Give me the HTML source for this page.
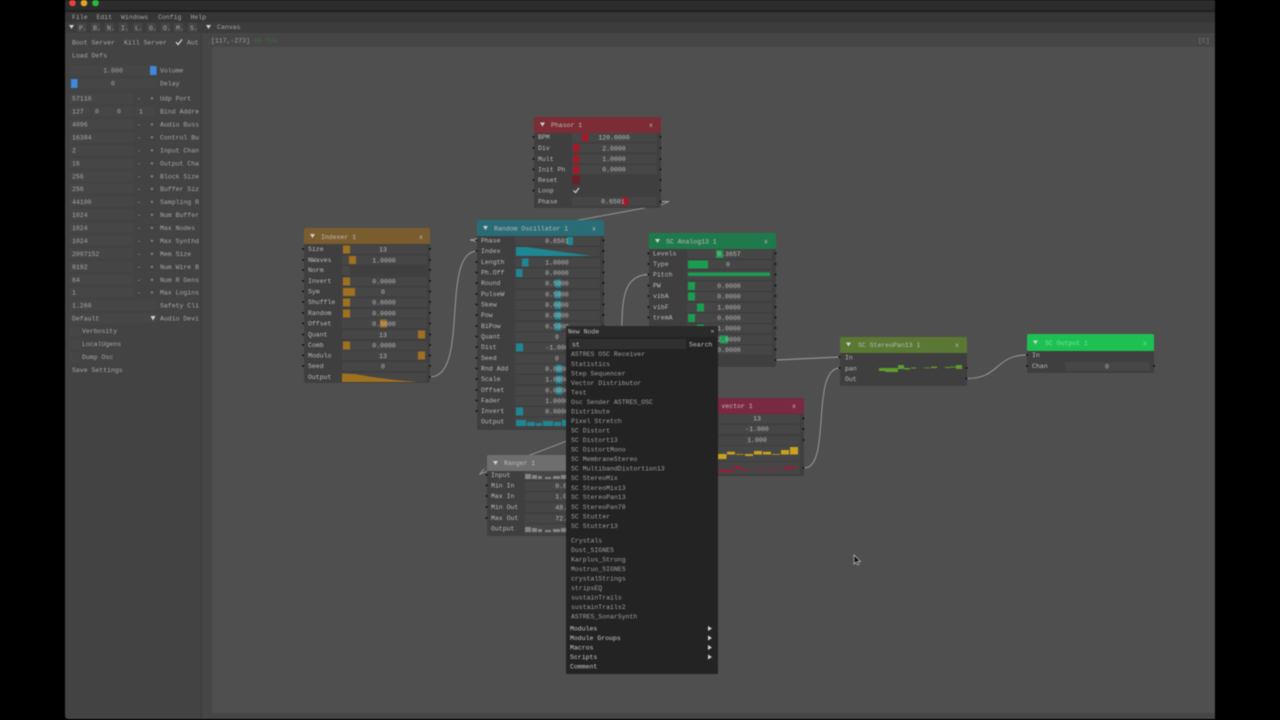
<!DOCTYPE html>
<html lang="en"><head><meta charset="utf-8"><title>Canvas</title>
<style>
html,body{margin:0;padding:0;background:#000;width:1280px;height:720px;overflow:hidden}
svg{display:block;filter:blur(.45px)}
text{font-family:"Liberation Mono","DejaVu Sans Mono",monospace;font-size:6.5px;fill:#aaa}
.m{text-anchor:middle}
.f{fill:#464646}
.b{fill:#3f3f3f}
.d{fill:none;stroke:#111;stroke-width:2;stroke-linecap:round}
.w{fill:none;stroke:#a0a0a0;stroke-width:.9}
.h{fill:#d0d0d0}
.l text{fill:#a8a8a8}
.n text{fill:#bcbcbc}
.g text{fill:#a0a0a0}
.t text{fill:#cccccc}
</style></head><body>
<svg width="1280" height="720" viewBox="0 0 1280 720" xmlns="http://www.w3.org/2000/svg">
<rect width="1280" height="720" fill="#000"/>
<rect x="65" y="0" width="1150" height="719" rx="3" fill="#434343"/>
<rect x="65" y="0" width="1150" height="10" fill="#2c2c2c"/>
<rect x="65" y="10" width="1150" height="2" fill="#1f1f1f"/>
<rect x="65" y="12" width="1150" height="10" fill="#363636"/>
<rect x="65" y="22" width="1150" height="11" fill="#3c3c3c"/>
<rect x="201" y="33" width="1" height="686" fill="#383838"/>
<rect x="202" y="33" width="1013" height="686" fill="#464646"/>
<rect x="212" y="47" width="1003" height="666" fill="#4f4f4f"/>
<circle cx="72.500" cy="3" r="3.300" fill="#e0443e"/><circle cx="84" cy="3" r="3.300" fill="#e0a52a"/><circle cx="95.500" cy="3" r="3.300" fill="#2cb840"/>

<g class="l">
<text x="72" y="19">File</text><text x="96.500" y="19">Edit</text><text x="121" y="19">Windows</text><text x="158" y="19">Config</text><text x="190.500" y="19">Help</text>
<path d="M69 25h5l-2.500 4z" class="h"/>
<path class="f" d="M77 23h9v9h-9zM91 23h9v9h-9zM105 23h9v9h-9zM119 23h9v9h-9zM133 23h9v9h-9zM147 23h9v9h-9zM161 23h9v9h-9zM174 23h9v9h-9zM188 23h9v9h-9z"/>
<text x="79" y="30">P.</text><text x="93" y="30">B.</text><text x="107" y="30">N.</text><text x="121" y="30">I.</text><text x="135" y="30">L.</text><text x="149" y="30">G.</text><text x="163" y="30">O.</text><text x="176" y="30">M.</text><text x="190" y="30">S.</text>
<path d="M206 25h5l-2.500 4z" class="h"/><text x="217" y="29">Canvas</text>
<text x="72" y="44.500">Boot Server</text><text x="124" y="44.500">Kill Server</text>
<path d="M176 42l2 2.500 4-5" fill="none" stroke="#ddd" stroke-width="1.200"/><text x="187" y="44.500">Aut</text>
<text x="72" y="57.500">Load Defs</text>
<path class="f" d="M70 66h87v9h-87zM70 79h87v9h-87zM70 94h63v9h-63zM70 107h20v9h-20zM93 107h20v9h-20zM114 107h19v9h-19zM135 107h20v9h-20zM70 120h63v9h-63zM70 133h63v9h-63zM70 146h63v9h-63zM70 159h63v9h-63zM70 172h63v9h-63zM70 184h63v9h-63zM70 197h63v9h-63zM70 210h63v9h-63zM70 223h63v9h-63zM70 236h63v9h-63zM70 249h63v9h-63zM70 262h63v9h-63zM70 275h63v9h-63zM70 288h63v9h-63zM70 301h87v9h-87zM70 314h87v9h-87zM70 327h10v9h-10zM70 340h10v9h-10zM70 353h10v9h-10z"/>
<rect x="150" y="66" width="6.500" height="9" fill="#3f88dc"/><rect x="71" y="79" width="6.500" height="9" fill="#3f88dc"/>
<text x="113" y="72.500" class="m">1.000</text><text x="113" y="85.500" class="m">0</text>
<text x="160" y="72.500">Volume</text><text x="160" y="85.500">Delay</text>
<text x="72" y="100.500">57110</text><text x="72" y="113.500">127</text><text x="95" y="113.500">0</text><text x="117" y="113.500">0</text><text x="139" y="113.500">1</text>
<text x="72" y="126.500">4096</text><text x="72" y="139.500">16384</text><text x="72" y="152.500">2</text><text x="72" y="165.500">16</text><text x="72" y="178.500">256</text><text x="72" y="191">256</text><text x="72" y="204">44100</text><text x="72" y="217">1024</text><text x="72" y="230">1024</text><text x="72" y="243">1024</text><text x="72" y="256">2097152</text><text x="72" y="269">8192</text><text x="72" y="282">64</text><text x="72" y="294.500">1</text>
<text x="72" y="307.500">1.260</text><text x="72" y="320.500">Default</text>
<path d="M150.500 316h5l-2.500 4.500z" class="h"/>
<text x="160" y="100.500">Udp Port</text><text x="160" y="113.500">Bind Addre</text><text x="160" y="126.500">Audio Buss</text><text x="160" y="139.500">Control Bu</text><text x="160" y="152.500">Input Chan</text><text x="160" y="165.500">Output Cha</text><text x="160" y="178.500">Block Size</text><text x="160" y="191">Buffer Siz</text><text x="160" y="204">Sampling R</text><text x="160" y="217">Num Buffer</text><text x="160" y="230">Max Nodes</text><text x="160" y="243">Max Synthd</text><text x="160" y="256">Mem Size</text><text x="160" y="269">Num Wire B</text><text x="160" y="282">Num R Gens</text><text x="160" y="294.500">Max Logins</text><text x="160" y="307.500">Safety Cli</text><text x="160" y="320.500">Audio Devi</text>
<text x="82" y="333">Verbosity</text><text x="82" y="346">LocalUgens</text><text x="82" y="359">Dump Osc</text><text x="72" y="372">Save Settings</text>
<g class="m"><text x="139" y="100.500">-</text><text x="152" y="100.500">+</text><text x="139" y="126.500">-</text><text x="152" y="126.500">+</text><text x="139" y="139.500">-</text><text x="152" y="139.500">+</text><text x="139" y="152.500">-</text><text x="152" y="152.500">+</text><text x="139" y="165.500">-</text><text x="152" y="165.500">+</text><text x="139" y="178.500">-</text><text x="152" y="178.500">+</text><text x="139" y="191">-</text><text x="152" y="191">+</text><text x="139" y="204">-</text><text x="152" y="204">+</text><text x="139" y="217">-</text><text x="152" y="217">+</text><text x="139" y="230">-</text><text x="152" y="230">+</text><text x="139" y="243">-</text><text x="152" y="243">+</text><text x="139" y="256">-</text><text x="152" y="256">+</text><text x="139" y="269">-</text><text x="152" y="269">+</text><text x="139" y="282">-</text><text x="152" y="282">+</text><text x="139" y="294.500">-</text><text x="152" y="294.500">+</text></g>
</g>
<text x="211" y="42.500" style="fill:#9e9e9e">[117,-273]</text><text x="254" y="42.500" style="fill:#3d6d3d">60 fps</text>
<text x="1198" y="42.500" style="fill:#7c7c7c">[C]</text>

<!-- wires -->
<path class="w" d="M660 201.500H669L661 205L470 240L477 241.500"/>
<path class="w" d="M430 377C470 377 440 252 477 251"/>
<path class="w" d="M649 274.500C615 274.500 625 320 620 345"/>
<path class="w" d="M776 360L840 357"/>
<path class="w" d="M804 468C832 468 810 368 840 368"/>
<path class="w" d="M967 378.500C1000 378.500 995 355 1027 355"/>
<path class="w" d="M575 438L530 455L480 474L484 469"/>

<!-- Phasor -->
<g class="n">
<rect x="534" y="117" width="127" height="91" rx="2" class="b"/>
<path d="M534 119q0-2 2-2h123q2 0 2 2v14h-127z" fill="#7b2c35"/>
<path class="f" d="M572 133h85v9h-85zM572 143.500h85v9h-85zM572 154.500h85v9h-85zM572 165h85v9h-85zM572 197h85v9h-85z"/>
<path d="M582 133.500h6.500v8h-6.500zM573 144h6.500v8h-6.500zM573 155h6.500v8h-6.500zM573 165.500h6.500v8h-6.500zM622 197.500h6.500v8h-6.500z" fill="#a01b27"/>
<rect x="572" y="175.500" width="8" height="9" fill="#6a1f2a"/>
<path d="M573.500 190.500l2 2 3.500-4.500" fill="none" stroke="#ddd" stroke-width="1.100"/>
<path class="d" d="M533.500 137h0M533.500 148h0M533.500 159h0M533.500 169.500h0M533.500 180h0M533.500 190.500h0M660.500 137h0M660.500 148h0M660.500 159h0M660.500 169.500h0M660.500 180h0M660.500 190.500h0M660.500 201.500h0"/>
<path d="M540 122.500h5l-2.500 4z" class="h"/>
<text x="551" y="127">Phasor 1</text><text x="649" y="127">x</text>
<text x="538" y="139">BPM</text><text x="538" y="150">Div</text><text x="538" y="161">Mult</text><text x="538" y="171.500">Init Ph</text><text x="538" y="182">Reset</text><text x="538" y="192.500">Loop</text><text x="538" y="203.500">Phase</text>
<g class="m"><text x="614" y="139.500">120.0000</text><text x="614" y="150.500">2.0000</text><text x="614" y="161">1.0000</text><text x="614" y="171.500">0.0000</text><text x="613" y="203.500">0.6501</text></g>
</g>

<!-- Indexer -->
<g class="n">
<rect x="304" y="228" width="126" height="155" rx="2" class="b"/>
<path d="M304 230q0-2 2-2h122q2 0 2 2v14h-126z" fill="#7a5d2e"/>
<path class="f" d="M342 245h85v9h-85zM342 255.500h85v9h-85zM342 277h85v9h-85zM342 287.500h85v9h-85zM342 298h85v9h-85zM342 309h85v9h-85zM342 319h85v9h-85zM342 330h85v9h-85zM342 341h85v9h-85zM342 351h85v9h-85zM342 362h85v9h-85zM342 373h85v9h-85z"/>
<rect x="342" y="266" width="8" height="9" fill="#464646"/>
<path d="M343 245.500h7v8h-7zM349 256h7v8h-7zM343 277.500h7v8h-7zM343 288h12v8h-12zM343 298.500h7v8h-7zM343 309.500h7v8h-7zM380 319.500h7v8h-7zM418 330.500h7v8h-7zM343 341.500h7v8h-7zM418 351.500h7v8h-7zM342 373.500L355 374L372 377L395 380L418 382H342z" fill="#a0711f"/>
<path class="d" d="M303 249h0M303 260h0M303 270h0M303 281h0M303 291.500h0M303 302h0M303 313h0M303 323.500h0M303 334.500h0M303 345h0M303 355.500h0M303 366h0M430 249h0M430 260h0M430 270h0M430 281h0M430 291.500h0M430 302h0M430 313h0M430 323.500h0M430 334.500h0M430 345h0M430 355.500h0M430 366h0M430 377h0"/>
<path d="M310 234h5l-2.500 4z" class="h"/>
<text x="321" y="239">Indexer 1</text><text x="419" y="239">x</text>
<text x="308" y="251">Size</text><text x="308" y="262">NWaves</text><text x="308" y="272">Norm</text><text x="308" y="283">Invert</text><text x="308" y="293.500">Sym</text><text x="308" y="304">Shuffle</text><text x="308" y="315">Random</text><text x="308" y="325.500">Offset</text><text x="308" y="336.500">Quant</text><text x="308" y="347">Comb</text><text x="308" y="357.500">Modulo</text><text x="308" y="368">Seed</text><text x="308" y="379">Output</text>
<g class="m"><text x="383" y="251.500">13</text><text x="384" y="262.500">1.0000</text><text x="384" y="283.500">0.0000</text><text x="383" y="294">0</text><text x="384" y="304.500">0.0000</text><text x="384" y="315.500">0.0000</text><text x="384" y="326">0.0000</text><text x="383" y="337">13</text><text x="384" y="347.500">0.0000</text><text x="383" y="358">13</text><text x="383" y="368.500">0</text></g>
</g>

<!-- Random Oscillator -->
<g class="n">
<rect x="477" y="220" width="127" height="210" rx="2" class="b"/>
<path d="M477 222q0-2 2-2h123q2 0 2 2v14h-127z" fill="#2a6c75"/>
<path class="f" d="M515 236.500h85v9h-85zM515 247h85v9h-85zM515 258h85v9h-85zM515 268.500h85v9h-85zM515 279h85v9h-85zM515 290h85v9h-85zM515 300.500h85v9h-85zM515 311h85v9h-85zM515 322h85v9h-85zM515 332.500h85v9h-85zM515 343h85v9h-85zM515 354h85v9h-85zM515 364.500h85v9h-85zM515 375h85v9h-85zM515 386h85v9h-85zM515 396.500h85v9h-85zM515 407h85v9h-85zM515 417.500h85v9h-85z"/>
<path d="M567 237h6v8h-6zM522 258.500h6.500v8h-6.500zM516 269h6.500v8h-6.500zM555 279.500h6v8h-6zM555 290.500h6v8h-6zM555 301h6v8h-6zM555 311.500h6v8h-6zM555 322.500h6v8h-6zM516 343.500h7v8h-7zM556 364.800h6v8h-6zM556 375.500h6v8h-6zM556 386.500h6v8h-6zM516 407.500h7v8h-7zM516 247h10l66 9h-76zM516 420h10v6h-10zM527 422h8v4h-8zM536 423h6v3h-6zM543 421h10v5h-10zM554 422h7v4h-7zM562 420h6v6h-6z" fill="#1f8793"/>
<path class="d" d="M476.500 240.500h0M476.500 251h0M476.500 262h0M476.500 272.500h0M476.500 283h0M476.500 294h0M476.500 304.500h0M476.500 315h0M476.500 326h0M476.500 336.500h0M476.500 347h0M476.500 358h0M476.500 368.500h0M476.500 379h0M476.500 390h0M476.500 400.500h0M476.500 411h0M603.500 240.500h0M603.500 251h0M603.500 262h0M603.500 272.500h0M603.500 283h0M603.500 294h0M603.500 304.500h0M603.500 315h0M603.500 326h0"/>
<path d="M483 226h5l-2.500 4z" class="h"/>
<text x="494" y="230.500">Random Oscillator 1</text><text x="592" y="230.500">x</text>
<text x="481" y="242.500">Phase</text><text x="481" y="253">Index</text><text x="481" y="264">Length</text><text x="481" y="274.500">Ph.Off</text><text x="481" y="285">Round</text><text x="481" y="296">PulseW</text><text x="481" y="306.500">Skew</text><text x="481" y="317">Pow</text><text x="481" y="328">BiPow</text><text x="481" y="338.500">Quant</text><text x="481" y="349">Dist</text><text x="481" y="360">Seed</text><text x="481" y="370.500">Rnd Add</text><text x="481" y="381">Scale</text><text x="481" y="392">Offset</text><text x="481" y="402.500">Fader</text><text x="481" y="413">Invert</text><text x="481" y="423.500">Output</text>
<g class="m"><text x="557" y="243">0.6501</text><text x="557" y="264.500">1.0000</text><text x="557" y="275">0.0000</text><text x="557" y="285.500">0.5000</text><text x="557" y="296.500">0.5000</text><text x="557" y="307">0.0000</text><text x="557" y="317.500">0.0000</text><text x="557" y="328.500">0.5000</text><text x="557" y="339">0</text><text x="557" y="349.500">-1.000</text><text x="557" y="360.500">0</text><text x="557" y="371">0.0000</text><text x="557" y="381.500">1.0000</text><text x="557" y="392.500">0.0000</text><text x="557" y="403">1.0000</text><text x="557" y="413.500">0.0000</text></g>
</g>

<!-- Analog -->
<g class="n">
<rect x="649" y="233" width="127" height="134" rx="2" class="b"/>
<path d="M649 235q0-2 2-2h123q2 0 2 2v14h-127z" fill="#1f7a4b"/>
<path class="f" d="M687 249.500h85v9h-85zM687 260h85v9h-85zM687 270.500h85v9h-85zM687 281.500h85v9h-85zM687 292h85v9h-85zM687 303h85v9h-85zM687 313.500h85v9h-85zM687 324h85v9h-85zM687 335h85v9h-85zM687 345.500h85v9h-85z"/>
<path d="M716 250h7v8h-7zM688 260.500h20v8h-20zM688 272.500h82v3.500h-82zM688 282h7v8h-7zM688 292.500h7v8h-7zM697 303.500h7v8h-7zM688 314h7v8h-7zM697 324.500h7v8h-7zM720 335.500h8v8h-8z" fill="#1a9d50"/>
<path class="d" d="M648.500 253.500h0M648.500 264h0M648.500 274.500h0M648.500 285.500h0M648.500 296h0M648.500 307h0M648.500 317.500h0M775.500 253.500h0M775.500 264h0M775.500 274.500h0M775.500 285.500h0M775.500 296h0M775.500 307h0M775.500 317.500h0M775.500 328h0M775.500 339h0M775.500 349.500h0M775.500 360h0"/>
<path d="M655 239h5l-2.500 4z" class="h"/>
<text x="666" y="243.500">SC Analog13 1</text><text x="764" y="243.500">x</text>
<text x="653" y="255.500">Levels</text><text x="653" y="266">Type</text><text x="653" y="276.500">Pitch</text><text x="653" y="287.500">PW</text><text x="653" y="298">vibA</text><text x="653" y="309">vibF</text><text x="653" y="319.500">tremA</text>
<g class="m"><text x="729" y="256">0.3657</text><text x="728" y="266.500">0</text><text x="729" y="288">0.0000</text><text x="729" y="298.500">0.0000</text><text x="729" y="309.500">1.0000</text><text x="729" y="320">0.0000</text><text x="729" y="330.500">1.0000</text><text x="729" y="341.500">2.0000</text><text x="729" y="352">0.0000</text></g>
</g>

<!-- vector -->
<g class="n">
<rect x="690" y="398" width="114" height="78" class="b"/>
<path d="M690 398h112q2 0 2 2v14h-114z" fill="#7a2942"/>
<path class="f" d="M716 414.500h84v9h-84zM716 425h84v9h-84zM716 436h84v9h-84zM716 446h84v15h-84zM716 462h84v12h-84z"/>
<path d="M718 454h8.500v5h-8.500zM727 451.800h8v2.700h-8zM736 454h7.500v.8h-7.500zM745 454h8v2h-8zM754 451h8v3.500h-8zM763 451.800h8v2.700h-8zM772 454h8v.8h-8zM781 450h8v4.500h-8zM790 447h8v7.500h-8z" fill="#c9a21f"/>
<path d="M718 469.500h15v2.500h-15zM734 466h7v3h-7zM742 469h6v2h-6zM756 469h10v1h-10zM767 468.500h10v1h-10zM783 466.500h13v2.500h-13z" fill="#961f3a"/>
<path class="d" d="M803.500 418.500h0M803.500 429h0M803.500 440h0M803.500 468h0"/>
<text x="721.500" y="408">vector 1</text><text x="792" y="408">x</text>
<g class="m"><text x="757" y="420.500">13</text><text x="757" y="431">-1.000</text><text x="757" y="442">1.000</text></g>
</g>

<!-- Ranger -->
<g class="n">
<rect x="487" y="455" width="85" height="81" rx="2" class="b"/>
<path d="M487 457q0-2 2-2h83v16h-85z" fill="#6e6e6e"/>
<path class="f" d="M525 471h50v9h-50zM525 481.500h50v9h-50zM525 492h50v9h-50zM525 503h50v9h-50zM525 514h50v9h-50zM525 524.500h50v9h-50z"/>
<path d="M525 474h6v5h-6zM532 475h5v4h-5zM538 476h4v3h-4zM545 477h6v2h-6zM553 476h7v3h-7zM561 475h5v4h-5zM525 527h6v5h-6zM532 528h5v4h-5zM538 529h4v3h-4zM545 530h6v2h-6zM553 529h7v3h-7zM561 528h5v4h-5z" fill="#858585"/>
<path class="d" d="M486.500 475h0M486.500 485.500h0M486.500 496h0M486.500 507h0M486.500 518h0"/>
<path d="M493 461h5l-2.500 4z" class="h"/>
<text x="504" y="465">Ranger 1</text>
<text x="491" y="477">Input</text><text x="491" y="487.500">Min In</text><text x="491" y="498">Max In</text><text x="491" y="509">Min Out</text><text x="491" y="520">Max Out</text><text x="491" y="530.500">Output</text>
<g class="m"><text x="567" y="488">0.0000</text><text x="567" y="498.500">1.0000</text><text x="567" y="509.500">48.000</text><text x="567" y="520.500">72.000</text></g>
</g>

<!-- New Node menu -->
<g class="g">
<rect x="566" y="326" width="152" height="348" rx="1" fill="#232323"/>
<rect x="566" y="326" width="152" height="11" fill="#2a2a2a"/>
<text x="568" y="333.500" style="fill:#c0c0c0">New Node</text>
<text x="710.500" y="333.500" style="fill:#c0c0c0">×</text>
<rect x="569" y="339" width="117" height="10" fill="#303030"/>
<text x="572" y="346.300" style="fill:#c8c8c8">st</text>
<text x="689" y="346.300" style="fill:#c0c0c0">Search</text>
<text x="571" y="356">ASTRES OSC Receiver</text><text x="571" y="366">Statistics</text><text x="571" y="375.500">Step Sequencer</text><text x="571" y="385">Vector Distributor</text><text x="571" y="394.500">Test</text><text x="571" y="404">Osc Sender ASTRES_OSC</text><text x="571" y="413.500">Distribute</text><text x="571" y="423">Pixel Stretch</text><text x="571" y="432.500">SC Distort</text><text x="571" y="442">SC Distort13</text><text x="571" y="451.500">SC DistortMono</text><text x="571" y="461">SC MembraneStereo</text><text x="571" y="470.500">SC MultibandDistortion13</text><text x="571" y="480">SC StereoMix</text><text x="571" y="490">SC StereoMix13</text><text x="571" y="499">SC StereoPan13</text><text x="571" y="509">SC StereoPan78</text><text x="571" y="518.500">SC Stutter</text><text x="571" y="528">SC Stutter13</text>
<text x="571" y="542.500">Crystals</text><text x="571" y="552">Dust_SIGNES</text><text x="571" y="561.500">Karplus_Strong</text><text x="571" y="571">Mostruo_SIGNES</text><text x="571" y="580.500">crystalStrings</text><text x="571" y="590">stripsEQ</text><text x="571" y="599.500">sustainTrails</text><text x="571" y="609">sustainTrails2</text><text x="571" y="618.500">ASTRES_SonarSynth</text>
</g>
<g class="t">
<text x="570" y="630.500">Modules</text><text x="570" y="640">Module Groups</text><text x="570" y="649.500">Macros</text><text x="570" y="659">Scripts</text><text x="570" y="668.500">Comment</text>
<path class="h" d="M708 626l4 2.500-4 2.500zM708 635.500l4 2.500-4 2.500zM708 645l4 2.500-4 2.500zM708 654.500l4 2.500-4 2.500z"/>
</g>

<!-- StereoPan -->
<g class="n">
<rect x="840" y="337" width="127" height="49" rx="2" class="b"/>
<path d="M840 339q0-2 2-2h123q2 0 2 2v14h-127z" fill="#5a7733"/>
<path d="M879 368h6v3h-6zM885 368h7v4h-7zM892 368h6v4h-6zM898 365h6v4h-6zM904 368h6v1.500h-6zM911 367.500h5v1h-5zM924 367.500h6v.8h-6zM931 366.500h6v1.500h-6zM945 367h5v1h-5zM950 366.500h7v1h-7zM956 365h6v4h-6z" fill="#5e9e2c"/>
<path class="d" d="M839.500 357h0M839.500 368h0M966.500 368h0M966.500 378.500h0"/>
<path d="M846 342.500h5l-2.500 4z" class="h"/>
<text x="858" y="347">SC StereoPan13 1</text><text x="955" y="347">x</text>
<text x="845" y="359.500">In</text><text x="845" y="370.500">pan</text><text x="845" y="381">Out</text>
</g>

<!-- SC Output -->
<g class="n">
<rect x="1027" y="334" width="127" height="39" rx="2" class="b"/>
<path d="M1027 336q0-2 2-2h123q2 0 2 2v15h-127z" fill="#1dc152"/>
<rect x="1065" y="362" width="85" height="9" class="f"/>
<path class="d" d="M1027 355h0M1027 366h0M1154 366h0"/>
<path d="M1033 340.500h5l-2.500 4z" class="h"/>
<text x="1045" y="345" style="fill:#7fe09a">SC Output 1</text><text x="1143" y="345" style="fill:#7fe09a">x</text>
<text x="1032" y="357">In</text><text x="1032" y="368">Chan</text>
<text x="1107" y="368.500" class="m">0</text>
</g>

<!-- cursor -->
<path d="M854 555v9l2-2 1.500 3 1.500-.8-1.500-2.800h3z" fill="#111" stroke="#ddd" stroke-width=".6"/>
</svg>
</body></html>
